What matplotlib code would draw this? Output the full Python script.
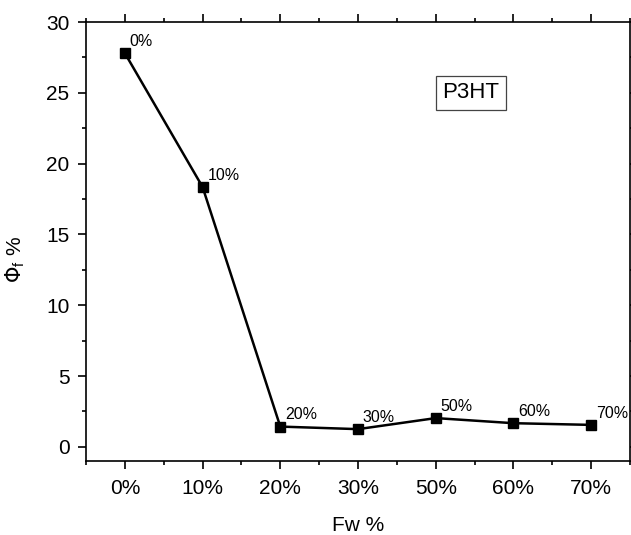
import matplotlib.pyplot as plt
from matplotlib.ticker import MultipleLocator

plt.rcParams['font.family'] = ['Liberation Sans', 'DejaVu Sans']

# water fraction categories and fluorescence quantum yield
fw_labels = ['0%', '10%', '20%', '30%', '50%', '60%', '70%']
phi_f = [27.8, 18.35, 1.43, 1.25, 2.03, 1.67, 1.55]
y_ticks = [0, 5, 10, 15, 20, 25, 30]

fig = plt.figure(figsize=(6.31, 5.35), dpi=100)
ax = fig.add_axes([86/631, 1 - 461/535, 544/631, 439/535])

xs = list(range(len(fw_labels)))
ax.plot(xs, phi_f, color='black', lw=1.8, marker='s', ms=7, zorder=3)

for x, y, lab in zip(xs, phi_f, fw_labels):
    ax.annotate(lab, (x, y), xytext=(3.5, 3), textcoords='offset points',
                ha='left', va='bottom', fontsize=11.5)

ax.text(4.45, 25.0, 'P3HT', fontsize=16, ha='center', va='center',
        bbox=dict(boxstyle='square,pad=0.3', fc='white', ec='#444444', lw=0.9))

ax.set_xlim(-0.5, 6.5)
ax.set_ylim(-1, 30)
ax.set_xticks(xs)
ax.set_xticklabels(fw_labels)
ax.set_yticks(y_ticks)
ax.xaxis.set_minor_locator(MultipleLocator(0.5))
ax.yaxis.set_minor_locator(MultipleLocator(2.5))

ax.tick_params(which='both', top=True, right=True, labelsize=15, width=1.2)
ax.tick_params(which='major', length=5.8)
ax.tick_params(which='minor', length=3)
for t in ax.xaxis.get_major_ticks() + ax.xaxis.get_minor_ticks():
    t.tick1line.set_marker(3)
    t.tick2line.set_marker(3)
for t in ax.yaxis.get_major_ticks() + ax.yaxis.get_minor_ticks():
    t.tick1line.set_marker(0)
    t.tick2line.set_marker(0)
ax.tick_params(axis='x', which='both', pad=7)
ax.tick_params(axis='y', which='both', pad=6)
for s in ax.spines.values():
    s.set_linewidth(1.2)

ax.set_xlabel('Fw %', fontsize=15)
ax.set_ylabel(r'$\Phi_\mathregular{f}$ %', fontsize=15)
ax.xaxis.set_label_coords(0.5, -0.125)
ax.yaxis.set_label_coords(-0.108, 0.458)

fig.savefig('out.png', dpi=100)
